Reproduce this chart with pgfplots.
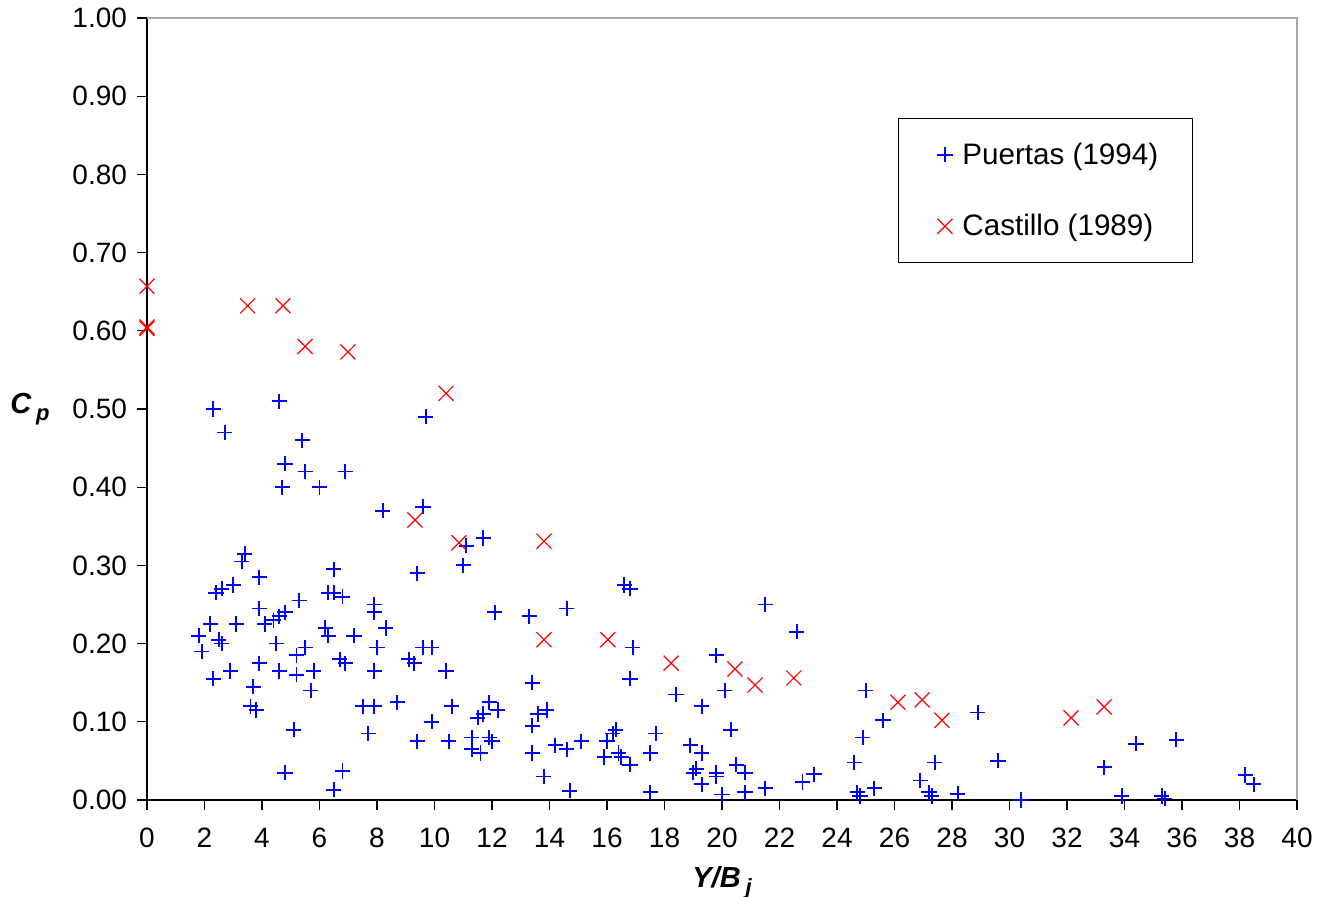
\documentclass[border=0pt]{standalone}
\usepackage{fontspec}
\setmainfont{Liberation Sans}
\usepackage{pgfplots}
\pgfplotsset{compat=1.18}
\begin{document}
\begin{tikzpicture}
\begin{axis}[
  name=ax,
  scale only axis,
  width=575pt, height=391pt,
  xmin=0, xmax=40, ymin=0, ymax=1,
  xtick distance=2,
  ytick={0,0.1,...,1.01},
  axis lines*=left,
  axis line style={-, black, line width=0.8pt},
  tick align=outside,
  major tick length=5pt,
  tick style={black, line width=0.6pt},
  /pgf/number format/assume math mode=true,
  ticklabel style={font=\fontsize{14}{16}\selectfont},
  yticklabel style={xshift=-1.5pt, /pgf/number format/fixed, /pgf/number format/fixed zerofill, /pgf/number format/precision=2},
  xticklabel style={yshift=-5.5pt, /pgf/number format/fixed, /pgf/number format/precision=0},
  clip=false,
  legend style={at={(axis cs:26.12,0.872)}, anchor=north west, draw=black, line width=0.5pt,
    font=\fontsize{14.8}{17}\selectfont, inner xsep=15pt, inner ysep=10pt, row sep=19.5pt,
    cells={anchor=west}},
  legend cell align=left,
  legend image code/.code={\path (0pt,0pt) (13.5pt,0pt);
    \draw[#1, mark repeat=2, mark phase=2] plot coordinates {(3pt,0pt) (8pt,0pt) (13pt,0pt)};},
  /tikz/every odd column/.style={column sep=1pt},
]
\addplot[only marks, mark=+, mark size=3.8pt, blue, mark options={line width=0.9pt}] coordinates {
(1.8,0.21) (1.9,0.19) (2.3,0.50) (2.2,0.225) (2.3,0.155) (2.4,0.265) (2.6,0.27) (2.5,0.205)
(2.6,0.20) (2.7,0.47) (2.9,0.165) (3.0,0.275) (3.1,0.225) (3.3,0.305) (3.4,0.315) (3.6,0.12)
(3.7,0.145) (3.8,0.115) (3.9,0.285) (3.9,0.245) (3.9,0.175) (4.1,0.225) (4.4,0.23) (4.5,0.20)
(4.6,0.51) (4.6,0.235) (4.6,0.165) (4.7,0.40) (4.8,0.43) (4.8,0.24) (4.8,0.035) (5.1,0.09)
(5.2,0.16) (5.2,0.185) (5.3,0.255) (5.4,0.46) (5.5,0.42) (5.5,0.195) (5.7,0.14) (5.8,0.165)
(6.0,0.40) (6.2,0.22) (6.3,0.21) (6.3,0.265) (6.5,0.265) (6.5,0.295) (6.5,0.013) (6.7,0.18)
(6.8,0.26) (6.9,0.42) (6.8,0.037) (6.9,0.175) (7.2,0.21) (7.5,0.12) (7.7,0.085) (7.9,0.25)
(7.9,0.24) (7.9,0.165) (7.9,0.12) (8.0,0.195) (8.2,0.37) (8.3,0.22) (8.7,0.125) (9.1,0.18)
(9.3,0.175) (9.4,0.075) (9.4,0.29) (9.6,0.195) (9.6,0.375) (9.7,0.49) (9.9,0.195) (9.9,0.10)
(10.4,0.165) (10.5,0.075) (10.6,0.12) (11.0,0.30) (11.1,0.325) (11.3,0.065) (11.3,0.08)
(11.5,0.105) (11.6,0.06) (11.7,0.335) (11.7,0.11) (11.9,0.125) (11.9,0.08) (12.0,0.075)
(12.1,0.24) (12.2,0.115) (13.3,0.235) (13.4,0.15) (13.4,0.095) (13.4,0.06) (13.6,0.11)
(13.8,0.03) (13.9,0.115) (14.2,0.07) (14.6,0.245) (14.6,0.065) (14.7,0.012) (15.1,0.075)
(15.9,0.055) (16.0,0.075) (16.2,0.085) (16.3,0.09) (16.4,0.06) (16.5,0.055) (16.6,0.275)
(16.8,0.27) (16.8,0.155) (16.9,0.195) (16.8,0.045) (17.5,0.06) (17.5,0.01) (17.7,0.085)
(18.4,0.135) (18.9,0.07) (19.0,0.035) (19.1,0.04) (19.3,0.12) (19.3,0.06) (19.3,0.02)
(19.8,0.185) (19.8,0.035) (19.8,0.03) (20.0,0.007) (20.1,0.14) (20.3,0.09) (20.5,0.045)
(20.8,0.035) (20.8,0.01) (21.5,0.25) (21.5,0.015) (22.6,0.215) (22.8,0.023) (23.2,0.033)
(24.6,0.048) (24.7,0.01) (24.8,0.005) (24.9,0.08) (25.0,0.14) (25.3,0.015) (25.6,0.102)
(26.9,0.025) (27.2,0.01) (27.3,0.005) (27.4,0.048) (28.2,0.008) (28.9,0.112) (29.6,0.05)
(30.4,0.0) (33.3,0.042) (33.9,0.005) (34.4,0.072) (35.3,0.005) (35.4,0.002) (35.8,0.077)
(38.2,0.032) (38.5,0.02)
};
\addlegendentry{Puertas (1994)}
\addplot[only marks, mark=x, mark size=5.3pt, red, mark options={line width=0.6pt}] coordinates {
(0,0.657) (0,0.605) (0,0.603) (3.5,0.632) (4.73,0.632) (5.5,0.58) (6.99,0.573) (10.4,0.52)
(9.32,0.358) (10.85,0.329) (13.81,0.331) (13.81,0.205) (16.03,0.205) (18.23,0.175)
(20.45,0.1675) (21.15,0.147) (22.5,0.156) (26.12,0.125) (26.96,0.128) (27.65,0.102)
(32.14,0.105) (33.29,0.119)
};
\addlegendentry{Castillo (1989)}
\end{axis}
\draw[gray!70, line width=0.8pt] (ax.north west) -- (ax.north east) -- (ax.south east);
\node[font=\fontsize{14.5}{17}\selectfont\bfseries\itshape] at ([xshift=-58.5pt]ax.west)
  {C\,\raisebox{-0.45ex}{\fontsize{11}{13}\selectfont p}};
\node[font=\fontsize{14.5}{17}\selectfont\bfseries\itshape] at ([yshift=-41.5pt]ax.south)
  {Y/B\,\raisebox{-0.45ex}{\fontsize{11}{13}\selectfont j}};
\pgfresetboundingbox
\path ([xshift=-73.5pt,yshift=-48.5pt]ax.south west) rectangle ([xshift=14pt,yshift=9pt]ax.north east);
\end{tikzpicture}
\end{document}
